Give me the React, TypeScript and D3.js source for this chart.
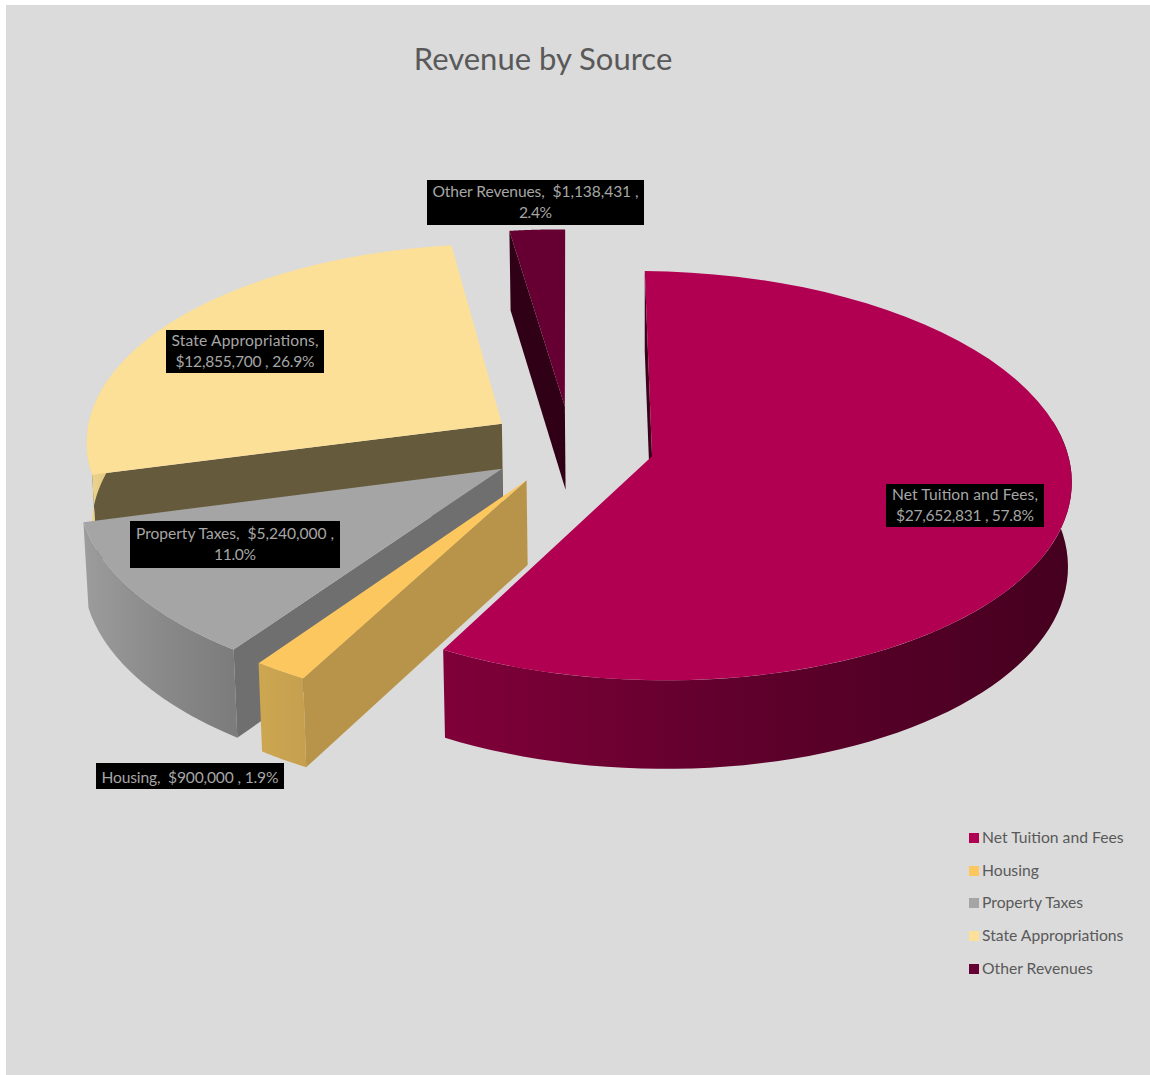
import React, { useMemo } from "react";
import * as d3 from "d3";

// Revenue by source, shown as an exploded 3D pie.
const categories = [
  "Net Tuition and Fees",
  "Housing",
  "Property Taxes",
  "State Appropriations",
  "Other Revenues",
];
const revenues = [27652831, 900000, 5240000, 12855700, 1138431];
const explosions = [0.2, 0.2, 0.2, 0.2, 0.2];

const topColors = ["#b10051", "#fcc75f", "#a5a5a5", "#fde097", "#660033"];
const radialWallColors = ["#3a001a", "#b8944a", "#6f6f70", "#665a3c", "#300016"];
const rimStops = [
  ["#800039", "#5e002b", "#45001f"],
  ["#cda650", "#c9a350", "#c6a04e"],
  ["#9c9c9c", "#8a8a8a", "#7c7c7c"],
  ["#f0d68f", "#e8cf8a", "#e0c884"],
  ["#4a0024", "#4a0024", "#4a0024"],
];
const paintOrder = [4, 3, 0, 2, 1];

// Label boxes: [left, top, right, bottom].
const labelBoxes = [
  [886, 484, 1044, 527],
  [96, 763, 284, 789],
  [130, 521, 340, 568],
  [166, 330, 324, 373],
  [427, 180, 644, 225],
];
const labelRows = [
  ["Net Tuition and Fees,", "$27,652,831 , 57.8%"],
  ["Housing,  $900,000 , 1.9%"],
  ["Property Taxes,  $5,240,000 ,", "11.0%"],
  ["State Appropriations,", "$12,855,700 , 26.9%"],
  ["Other Revenues,  $1,138,431 ,", "2.4%"],
];
const labelRowWidths = [
  [146, 138],
  [177],
  [198, 42],
  [147, 139],
  [206, 33],
];
const legendRowsY = [838, 871, 903, 936, 969];

const WIDTH = 1150;
const HEIGHT = 1075;
const FONT = "Lato, 'Open Sans', sans-serif";

// Perspective camera for the pie's ground plane.
const R = 416;
const TILT = 0.483;
const PERSPECTIVE = 0.095;
const CENTER_X = 571;
const CENTER_Y = 447;
const VANISH_X = 645;
const EXTRUDE = 84;
const CONVERGE = 0.009;
const SHEAR = 0.015;
const SHEAR_PIVOT = 650;
const ROTATION = (-1 * Math.PI) / 180;

type Pt = [number, number];

function project(gx: number, gy: number, drop = 0): Pt {
  const w = 1 - PERSPECTIVE * gy;
  const x0 = (CENTER_X - VANISH_X) / R;
  const shrink = 1 - (CONVERGE * drop) / EXTRUDE;
  const xTop = VANISH_X + ((x0 + gx) * R) / w;
  return [
    VANISH_X + (xTop - VANISH_X) * shrink,
    CENTER_Y +
      (gy * TILT * R) / w +
      SHEAR * (xTop - SHEAR_PIVOT) +
      drop / Math.sqrt(w),
  ];
}

const line = d3.line<Pt>();

export default function App() {
  const slices = useMemo(() => {
    const arcs = d3
      .pie<number>()
      .sort(null)
      .startAngle(ROTATION)
      .endAngle(ROTATION + 2 * Math.PI)(revenues);
    return arcs.map((a, i) => {
      const mid = (a.startAngle + a.endAngle) / 2;
      const ex = explosions[i] * Math.sin(mid);
      const ey = -explosions[i] * Math.cos(mid);
      const at = (t: number, drop = 0) =>
        project(ex + Math.sin(t), ey - Math.cos(t), drop);
      const apex = (drop = 0) => project(ex, ey, drop);
      const samples = (from: number, to: number, drop = 0) =>
        d3.range(0, 61).map((k) => at(from + ((to - from) * k) / 60, drop));

      const top = [apex(), ...samples(a.startAngle, a.endAngle)];

      const walls: { d: string; fill: string }[] = [];
      const radial = (t: number) =>
        line([apex(), at(t), at(t, EXTRUDE), apex(EXTRUDE)]) + "Z";
      if (Math.sin(a.startAngle) < 0)
        walls.push({ d: radial(a.startAngle), fill: radialWallColors[i] });
      if (Math.sin(a.endAngle) > 0)
        walls.push({ d: radial(a.endAngle), fill: radialWallColors[i] });

      // The curved rim only shows on the viewer's side of the pie.
      const lo = Math.max(a.startAngle, (78 * Math.PI) / 180);
      const hi = Math.min(a.endAngle, (282 * Math.PI) / 180);
      let rim: { d: string; x1: number; x2: number } | null = null;
      if (hi > lo) {
        const upper = samples(lo, hi);
        const lower = samples(lo, hi, EXTRUDE).reverse();
        const xs = upper.map((p) => p[0]);
        rim = {
          d: line([...upper, ...lower]) + "Z",
          x1: d3.min(xs) as number,
          x2: d3.max(xs) as number,
        };
      }
      return { i, top: line(top) + "Z", walls, rim };
    });
  }, []);

  return (
    <svg
      width={WIDTH}
      height={HEIGHT}
      style={{ position: "absolute", left: 0, top: 0, display: "block" }}
    >
      <defs>
        {slices.map(
          (s) =>
            s.rim && (
              <linearGradient
                key={s.i}
                id={`rim-${s.i}`}
                gradientUnits="userSpaceOnUse"
                x1={s.rim.x1}
                x2={s.rim.x2}
                y1={0}
                y2={0}
              >
                {rimStops[s.i].map((c, k) => (
                  <stop key={k} offset={k / 2} stopColor={c} />
                ))}
              </linearGradient>
            ),
        )}
      </defs>
      <rect width={WIDTH} height={HEIGHT} fill="#ffffff" />
      <rect x={6} y={5} width={WIDTH - 6} height={HEIGHT - 5} fill="#dbdbdb" />

      <text
        x={543}
        y={70}
        textAnchor="middle"
        fontFamily={FONT}
        fontSize={31}
        fill="#595959"
      >
        Revenue by Source
      </text>

      {paintOrder.map((idx) => {
        const s = slices[idx];
        return (
          <g key={idx}>
            {s.walls.map((w, k) => (
              <path key={k} d={w.d} fill={w.fill} />
            ))}
            {s.rim && <path d={s.rim.d} fill={`url(#rim-${idx})`} />}
            <path d={s.top} fill={topColors[idx]} />
          </g>
        );
      })}

      {categories.map((name, i) => {
        const [x0, y0, x1, y1] = labelBoxes[i];
        const rows = labelRows[i];
        const midY = (y0 + y1) / 2;
        const baseline = rows.length > 1 ? 5 : 6.5;
        return (
          <g key={name}>
            <rect x={x0} y={y0} width={x1 - x0} height={y1 - y0} fill="#000000" />
            {rows.map((r, k) => (
              <text
                key={k}
                x={(x0 + x1) / 2}
                y={midY + (k - (rows.length - 1) / 2) * 21 + baseline}
                textAnchor="middle"
                fontFamily={FONT}
                fontSize={15.6}
                fill="#a6a6a6"
                xmlSpace="preserve"
                textLength={labelRowWidths[i][k]}
                lengthAdjust="spacing"
              >
                {r}
              </text>
            ))}
          </g>
        );
      })}

      {categories.map((name, i) => (
        <g key={name}>
          <rect
            x={969}
            y={legendRowsY[i] - 5}
            width={10}
            height={10}
            fill={topColors[i]}
          />
          <text
            x={982}
            y={legendRowsY[i] + 5}
            fontFamily={FONT}
            fontSize={15.7}
            fill="#595959"
          >
            {name}
          </text>
        </g>
      ))}
    </svg>
  );
}
